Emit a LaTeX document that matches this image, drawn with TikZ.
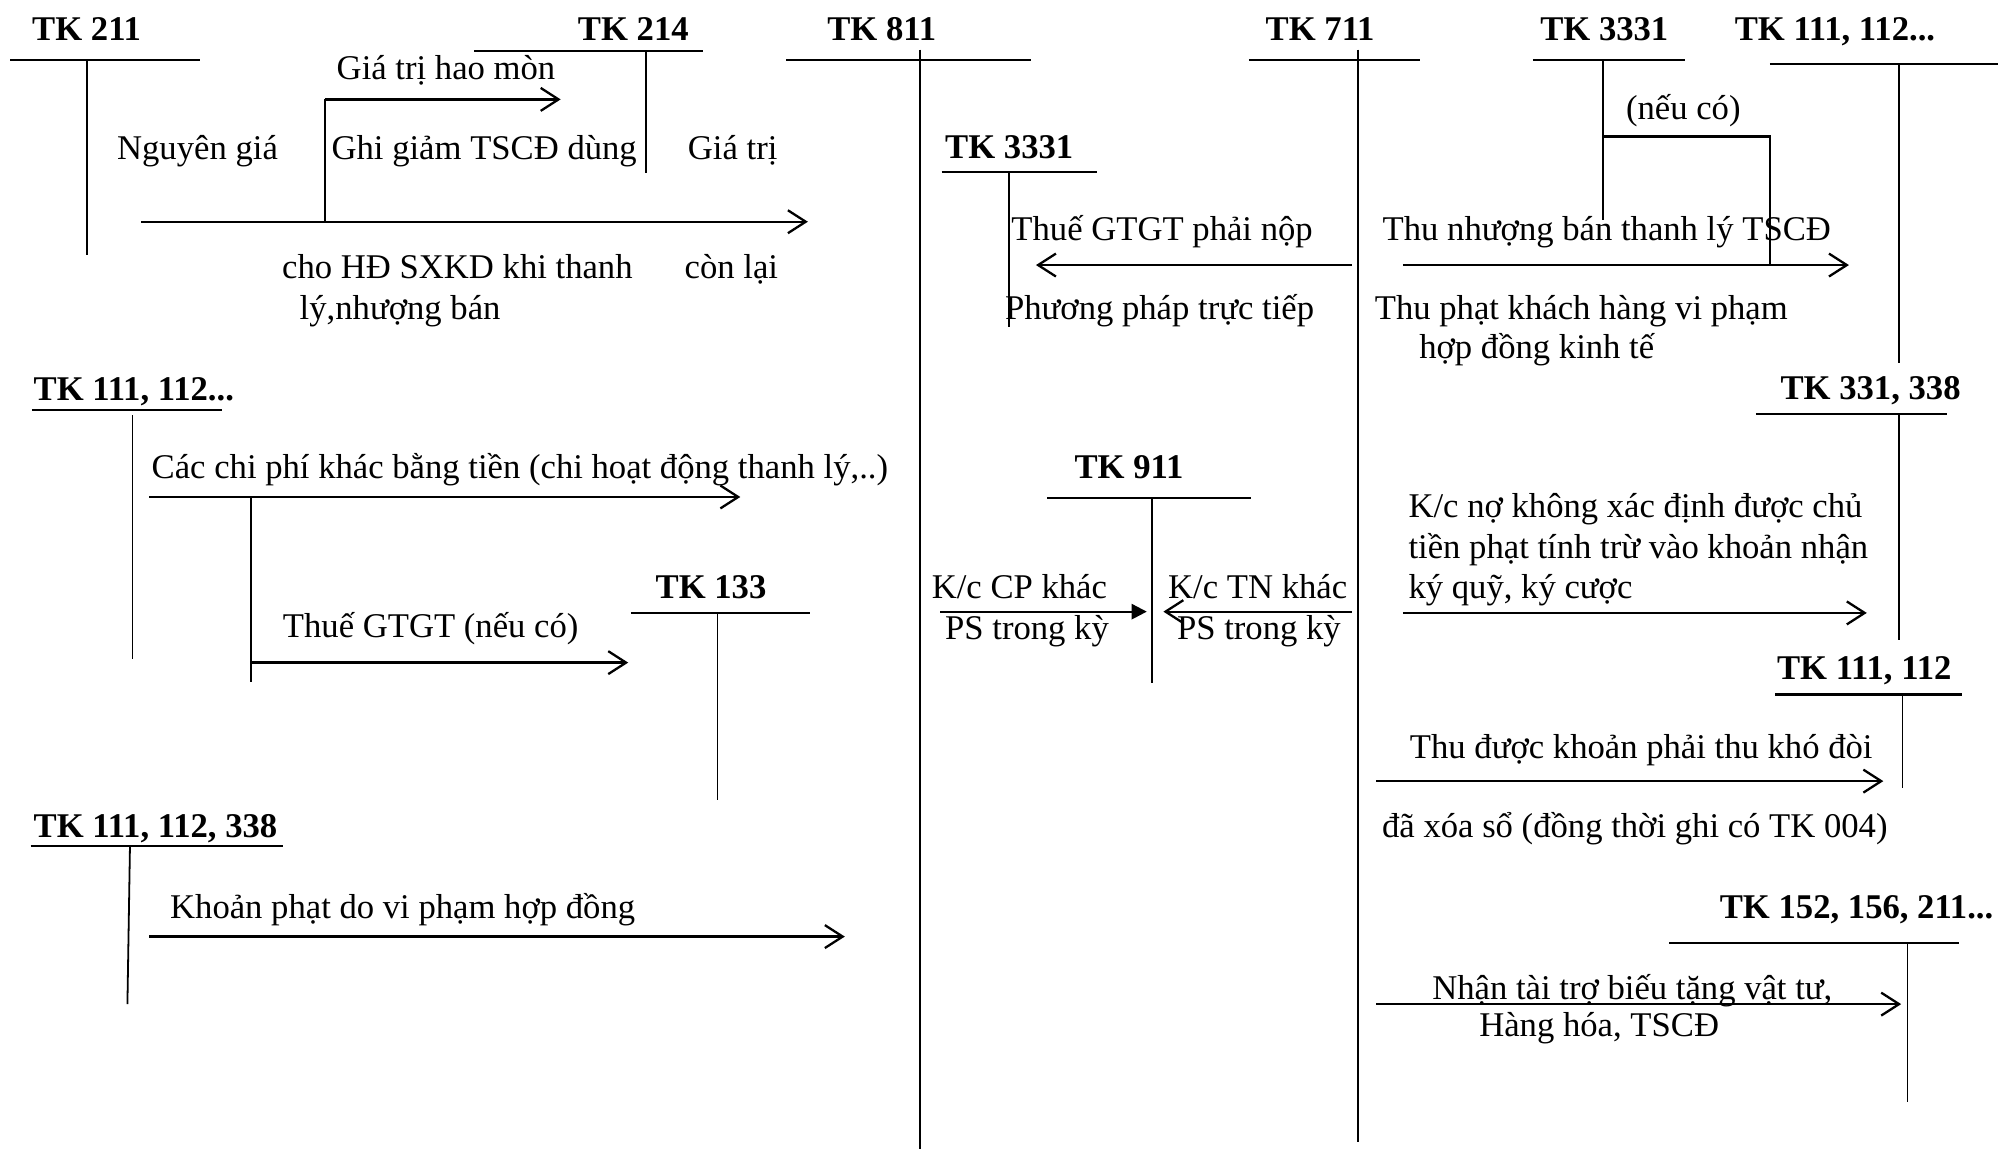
\documentclass[tikz,border=0pt]{standalone}
\usepackage{fontspec}
\setmainfont{Liberation Serif}
\usetikzlibrary{arrows.meta}
\begin{document}
\begin{tikzpicture}[x=0.5pt,y=-0.5pt,
  >={Straight Barb[length=7pt,width=9pt]},
  tk/.style={font=\fontsize{13.6pt}{16pt}\selectfont\bfseries, inner sep=0pt, text height=10pt, text depth=2.5pt},
  lbl/.style={font=\fontsize{13.6pt}{16pt}\selectfont, inner sep=0pt, text height=10pt, text depth=2.5pt},
  hline/.style={line width=0.9pt},
  vline/.style={line width=0.7pt},
  flow/.style={->, line width=0.9pt}]
\useasboundingbox (0,0) rectangle (1568,902);
% T accounts, top row
\node[tk] (tk211) at (68,24) {TK 211};
\draw[hline] (8,47) -- (157,47);
\draw[vline] (68,47) -- (68,200);
\node[tk] (tk214) at (497,24) {TK 214};
\draw[hline] (372,40) -- (552,40);
\draw[vline] (507,40) -- (507,136);
\node[tk] (tk811) at (692,24) {TK 811};
\draw[hline] (617,47) -- (809,47);
\draw[vline] (722,39) -- (722,902);
\node[tk] (tk711) at (1036,24) {TK 711};
\draw[hline] (980,47) -- (1114,47);
\draw[vline] (1066,39) -- (1066,896);
\node[tk] (tk3331a) at (1259,24) {TK 3331};
\draw[hline] (1203,47) -- (1322,47);
\draw[vline] (1258,47) -- (1258,173);
\node[tk] (tk111a) at (1440,24) {TK 111, 112...};
\draw[hline] (1389,50) -- (1568,50);
\draw[vline] (1490,50) -- (1490,285);
% T accounts, middle and lower
\node[tk] (tk3331b) at (792,117) {TK 3331};
\draw[hline] (739,135) -- (861,135);
\draw[vline] (792,135) -- (792,257);
\node[tk] (tk111b) at (105,307) {TK 111, 112...};
\draw[hline] (25,322) -- (174,322);
\draw[vline] (104,326) -- (104,517);
\node[tk] (tk331) at (1468,306) {TK 331, 338};
\draw[hline] (1378,325) -- (1528,325);
\draw[vline] (1490,325) -- (1490,502);
\node[tk] (tk911) at (886,368) {TK 911};
\draw[hline] (822,391) -- (982,391);
\draw[vline] (904,391) -- (904,536);
\node[tk] (tk133) at (558,462) {TK 133};
\draw[hline] (495,481) -- (636,481);
\draw[vline] (563,481) -- (563,628);
\node[tk] (tk111c) at (1463,526) {TK 111, 112};
\draw[hline] (1393,545) -- (1540,545);
\draw[vline] (1493,545) -- (1493,618);
\node[tk] (tk111d) at (122,650) {TK 111, 112, 338};
\draw[hline] (24,664) -- (222,664);
\draw[vline] (102,664) -- (100,788);
\node[tk] (tk152) at (1457,713) {TK 152, 156, 211...};
\draw[hline] (1310,740) -- (1537,740);
\draw[vline] (1497,740) -- (1497,865);
% thanh ly TSCD
\coordinate (nga) at (111,174);
\coordinate (ngb) at (634,174);
\coordinate (hma) at (255,78);
\coordinate (hmb) at (440,78);
\draw[flow] (nga) -- (ngb);
\draw[vline] (hma |- nga) -- (hma);
\draw[flow] (hma) -- (hmb);
\node[lbl] (haomon) at (350,55) {Giá trị hao mòn};
\node[lbl] (nguyengia) at (155,118) {Nguyên giá};
\node[lbl] (ghigiam) at (380,118) {Ghi giảm TSCĐ dùng};
\node[lbl] (giatri) at (575,118) {Giá trị};
\node[lbl] (chohd) at (359,211) {cho HĐ SXKD khi thanh};
\node[lbl] (conlai) at (574,211) {còn lại};
\node[lbl] (nhuongban) at (314,243) {lý,nhượng bán};
% thue phai nop, thu nhuong ban
\coordinate (tha) at (1061,208);
\coordinate (thb) at (813,208);
\draw[flow] (tha) -- (thb);
\node[lbl] (thuenop) at (912,181) {Thuế GTGT phải nộp};
\node[lbl] (pptt) at (910,243) {Phương pháp trực tiếp};
\coordinate (tna) at (1101,208);
\coordinate (tnb) at (1451,208);
\coordinate (tnc) at (1258,107);
\draw[flow] (tna) -- (tnb);
\draw[hline] (tnc) -| (1389,208);
\node[lbl] (neuco) at (1321,86) {(nếu có)};
\node[lbl] (thunb) at (1261,181) {Thu nhượng bán thanh lý TSCĐ};
\node[lbl] (thuphat) at (1241,243) {Thu phạt khách hàng vi phạm};
\node[lbl] (hopdong) at (1206,274) {hợp đồng kinh tế};
% chi phi khac
\coordinate (cpa) at (117,390);
\coordinate (cpb) at (581,390);
\coordinate (gta) at (197,520);
\coordinate (gtb) at (493,520);
\draw[flow] (cpa) -- (cpb);
\draw[vline] (gta |- cpa) -- (197,535);
\draw[flow] (gta) -- (gtb);
\node[lbl] (chiphi) at (408,368) {Các chi phí khác bằng tiền (chi hoạt động thanh lý,..)};
\node[lbl] (thuegt) at (338,493) {Thuế GTGT (nếu có)};
% ket chuyen 911
\coordinate (kca) at (738,480);
\coordinate (kcb) at (900,480);
\coordinate (kna) at (1061,480);
\coordinate (knb) at (913,480);
\draw[-{Triangle[length=6pt,width=6pt]}, line width=0.9pt] (kca) -- (kcb);
\draw[flow] (kna) -- (knb);
\node[lbl] (kccp) at (800,462) {K/c CP khác};
\node[lbl] (pscp) at (806,494) {PS trong kỳ};
\node[lbl] (kctn) at (987,462) {K/c TN khác};
\node[lbl] (pstn) at (988,494) {PS trong kỳ};
% thu nhap khac ben phai
\coordinate (kqa) at (1101,481);
\coordinate (kqb) at (1465,481);
\draw[flow] (kqa) -- (kqb);
\node[lbl, anchor=west] (kcno) at (1105,399) {K/c nợ không xác định được chủ};
\node[lbl, anchor=west] (tienphat) at (1105,431) {tiền phạt tính trừ vào khoản nhận};
\node[lbl, anchor=west] (kyquy) at (1105,462) {ký quỹ, ký cược};
\coordinate (kda) at (1080,613);
\coordinate (kdb) at (1478,613);
\draw[flow] (kda) -- (kdb);
\node[lbl] (khodoi) at (1288,588) {Thu được khoản phải thu khó đòi};
\node[lbl] (xoaso) at (1283,650) {đã xóa sổ (đồng thời ghi có TK 004)};
\coordinate (tta) at (1080,788);
\coordinate (ttb) at (1492,788);
\draw[flow] (tta) -- (ttb);
\node[lbl] (taitro) at (1281,777) {Nhận tài trợ biếu tặng vật tư,};
\node[lbl] (hanghoa) at (1255,806) {Hàng hóa, TSCĐ};
% khoan phat
\coordinate (kpa) at (117,735);
\coordinate (kpb) at (663,735);
\draw[flow] (kpa) -- (kpb);
\node[lbl] (khoanphat) at (316,713) {Khoản phạt do vi phạm hợp đồng};
\end{tikzpicture}
\end{document}
